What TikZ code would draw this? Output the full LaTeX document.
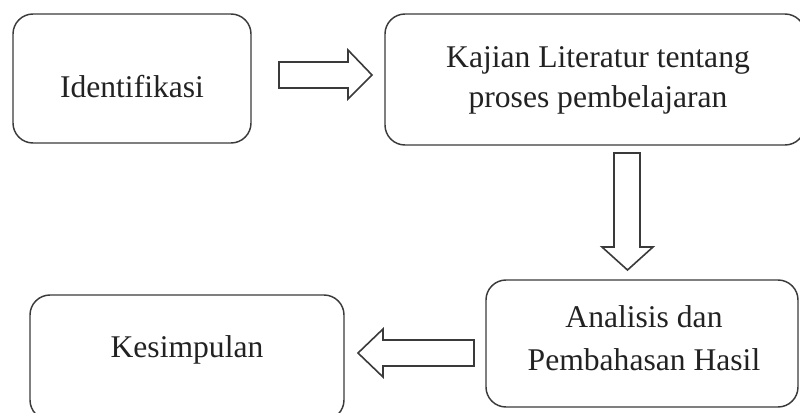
\documentclass[tikz,border=0pt]{standalone}
\usepackage{fontspec}
\setmainfont{Liberation Serif}
\definecolor{linec}{HTML}{3A3A3A}
\definecolor{textc}{HTML}{222222}
\begin{document}
\begin{tikzpicture}[x=0.75pt,y=-0.75pt,
  box/.style={draw=linec, line width=1.1pt, rounded corners=15pt, inner sep=0pt},
  lbl/.style={anchor=base, inner sep=0pt, text=textc, font=\fontsize{23.7}{30}\selectfont},
  blockarrow/.style={draw=linec, line width=1.2pt, fill=white, line join=miter}]
\useasboundingbox (0,0) rectangle (800,412);
\begin{scope}
\clip (0,0) rectangle (800,412);
% boxes
\node[box, minimum width=178.5pt, minimum height=96.75pt] (b1) at (132,78.5) {};
\node[box, minimum width=315pt, minimum height=98.25pt] (b2) at (595,79.5) {};
\node[box, minimum width=234pt, minimum height=95.25pt] (b3) at (642,343.5) {};
\node[box, minimum width=235.5pt, minimum height=93.75pt] (b4) at (187,357.5) {};
\end{scope}
% texts
\node[lbl] (t1) at (132,97) {Identifikasi};
\node[lbl] (t2a) at (598,67) {Kajian Literatur tentang};
\node[lbl] (t2b) at (598,107) {proses pembelajaran};
\node[lbl] (t3a) at (644,327) {Analisis dan};
\node[lbl] (t3b) at (644,370) {Pembahasan Hasil};
\node[lbl] (t4) at (187,357) {Kesimpulan};
% block arrows
\coordinate (a1) at (279,75);
\coordinate (a2) at (627,153);
\coordinate (a3) at (474,353);
\draw[blockarrow] (a1) ++(0,-13) -- ++(69,0) -- ++(0,-12) -- ++(24,25) -- ++(-24,24) -- ++(0,-11) -- ++(-69,0) -- cycle;
\draw[blockarrow] (a2) ++(-13,0) -- ++(26,0) -- ++(0,94) -- ++(13,0) -- ++(-25.5,23) -- ++(-25.5,-23) -- ++(12,0) -- cycle;
\draw[blockarrow] (a3) ++(0,-13) -- ++(-91,0) -- ++(0,-11) -- ++(-25,24) -- ++(25,24) -- ++(0,-11) -- ++(91,0) -- cycle;
\end{tikzpicture}
\end{document}
